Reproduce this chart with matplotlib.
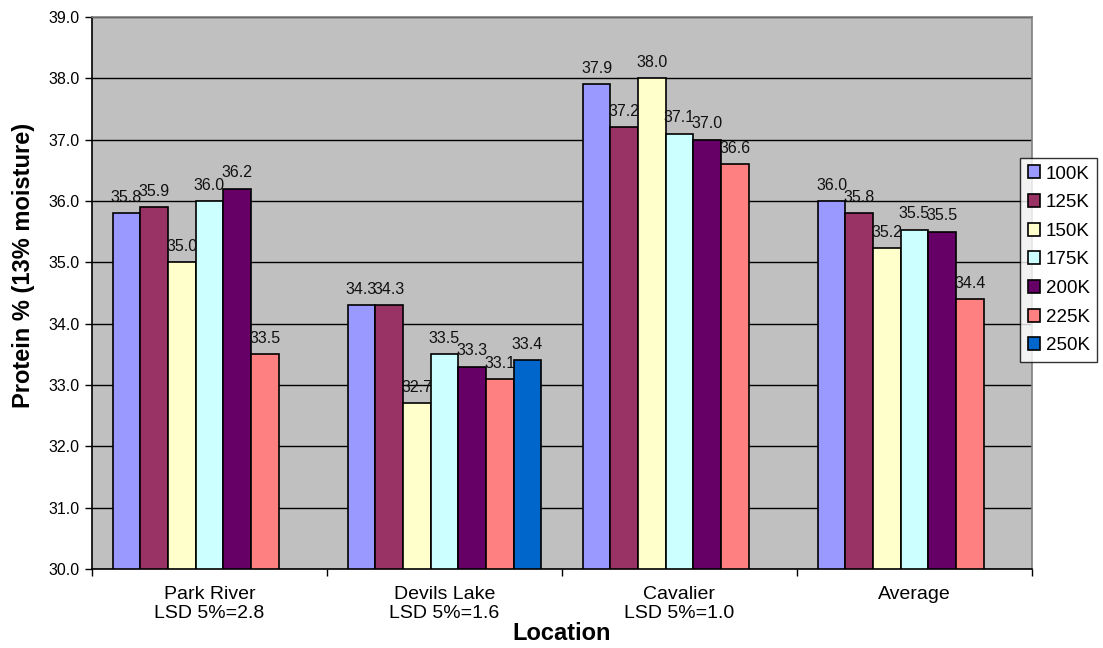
import numpy as np
import matplotlib
matplotlib.use("Agg")
import matplotlib.pyplot as plt

categories = ["Park River\nLSD 5%=2.8", "Devils Lake\nLSD 5%=1.6", "Cavalier\nLSD 5%=1.0", "Average"]
series_names = ["100K", "125K", "150K", "175K", "200K", "225K", "250K"]
v100 = [35.8, 34.3, 37.9, 36.0]
v125 = [35.9, 34.3, 37.2, 35.8]
v150 = [35.0, 32.7, 38.0, 35.23]
v175 = [36.0, 33.5, 37.1, 35.53]
v200 = [36.2, 33.3, 37.0, 35.5]
v225 = [33.5, 33.1, 36.6, 34.4]
v250 = [np.nan, 33.4, np.nan, np.nan]
series_values = [v100, v125, v150, v175, v200, v225, v250]
colors = ["#9999FF", "#993366", "#FFFFCC", "#CCFFFF", "#660066", "#FF8080", "#0066CC"]
yticks = [30.0, 31.0, 32.0, 33.0, 34.0, 35.0, 36.0, 37.0, 38.0, 39.0]

plt.rcParams['font.family'] = ['Liberation Sans', 'DejaVu Sans']

fig = plt.figure(figsize=(11.03, 6.48), dpi=100)
ax = fig.add_axes([92/1103, 1-569/648, 940/1103, 552/648])
ax.set_facecolor("#C0C0C0")

n = len(series_names)
w = 1/8.5
x = np.arange(len(categories))
for j, (name, vals, c) in enumerate(zip(series_names, series_values, colors)):
    pos = x - n*w/2 + (j+0.5)*w
    vals = np.array(vals, dtype=float)
    mask = ~np.isnan(vals)
    ax.bar(pos[mask], vals[mask] - 30.0, bottom=30.0, width=w, color=c,
           edgecolor="black", linewidth=1.2, label=name, zorder=3)
    for p, v in zip(pos[mask], vals[mask]):
        ax.annotate(f"{v:.1f}", (p, v), xytext=(0, 6), textcoords="offset points",
                    ha="center", va="bottom", fontsize=11.5, color="#111111", zorder=4)

ax.set_xlim(-0.5, len(categories)-0.5)
ax.set_ylim(30, 39)
ax.set_yticks(yticks)
ax.set_yticklabels([f"{t:.1f}" for t in yticks], fontsize=11.5)
ax.yaxis.grid(True, color="black", linewidth=1.0, zorder=1)
ax.set_axisbelow(True)

ax.set_xticks(np.arange(len(categories)+1) - 0.5)
ax.set_xticklabels([])
ax.set_xticks(x, minor=True)
ax.set_xticklabels(categories, minor=True, fontsize=14, linespacing=1.2)
ax.tick_params(axis="x", which="minor", length=0, pad=12)
ax.tick_params(axis="x", which="major", length=5, direction="out", width=1)
ax.tick_params(axis="y", length=5, direction="out", width=1, pad=4)

ax.spines["left"].set_color("black")
ax.spines["bottom"].set_color("black")
ax.spines["top"].set_color("#808080")
ax.spines["right"].set_color("#808080")
for s in ax.spines.values():
    s.set_linewidth(1.2)

fig.text(23.5/1103, 1-265/648, "Protein % (13% moisture)", rotation=90,
         ha="center", va="center", fontsize=17, fontweight="bold")
fig.text(561.5/1103, 1-633/648, "Location", ha="center", va="center",
         fontsize=17, fontweight="bold")

leg = ax.legend(loc="upper left", bbox_to_anchor=(1020/1103, 1-158/648), bbox_transform=fig.transFigure,
                fontsize=13.5, frameon=True, fancybox=False, edgecolor="black",
                handlelength=0.68, handleheight=0.68, handletextpad=0.3, labelspacing=0.62,
                borderpad=0.4, borderaxespad=0)
leg.get_frame().set_linewidth(1.0)
leg.get_frame().set_facecolor("white")

fig.savefig("out.png", dpi=100)
